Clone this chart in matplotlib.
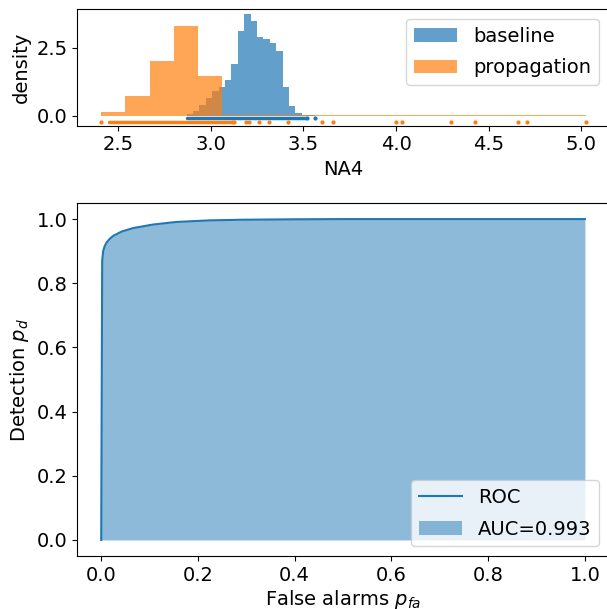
import numpy as np
import matplotlib
matplotlib.use('Agg')
import matplotlib.pyplot as plt

plt.rcParams['font.size'] = 14

#Histogram densities of NA4 - - - - - - - - - - - - - - - - -
# baseline: 20 bins between 2.869 and 3.561
base_lo, base_hi = 2.869, 3.561
base_density = [0.06, 0.17, 0.39, 0.65, 0.91, 1.05, 1.31, 1.90, 3.11, 3.74,
                3.48, 2.89, 2.82, 2.67, 2.38, 1.05, 0.36, 0.10, 0.02, 0.015]
# propagation: 20 bins between 2.408 and 5.023
prop_lo, prop_hi = 2.408, 5.023
prop_density = [0.14, 0.73, 2.02, 3.30, 1.46, 0.03, 0.025, 0.015, 0.015, 0.015,
                0.015, 0.015, 0.015, 0.015, 0.015, 0.015, 0.015, 0.015, 0.015, 0.015]

#Rug of individual samples (dense run + stragglers)
base_rug_span = [2.869, 3.516]
base_rug_pts = [3.52, 3.561]
prop_rug_span = [2.448, 3.102]
prop_rug_pts = [2.408, 3.112, 3.125, 3.189, 3.205, 3.258, 3.314, 3.417, 3.602,
                3.662, 4.0, 4.034, 4.296, 4.428, 4.658, 4.706, 5.023]

#ROC curve
pfa = [0.0, 0.002, 0.004, 0.007, 0.011, 0.018, 0.025, 0.042, 0.066, 0.107,
       0.155, 0.224, 0.293, 0.4, 0.5, 1.0]
pd_ = [0.0, 0.87, 0.90, 0.915, 0.927, 0.939, 0.948, 0.961, 0.972, 0.983,
       0.991, 0.996, 0.998, 0.9993, 1.0, 1.0]
auc = 0.993

leg_kw = dict(handlelength=2.2, handletextpad=0.85, labelspacing=0.65)

fig = plt.figure(figsize=(6.07, 6.09), dpi=100)
ax1 = fig.add_axes([0.1269, 0.7936, 0.8765, 0.1911])
ax2 = fig.add_axes([0.1269, 0.0870, 0.8765, 0.5796])

#Top: histograms + rug
base_edges = np.linspace(base_lo, base_hi, len(base_density) + 1)
prop_edges = np.linspace(prop_lo, prop_hi, len(prop_density) + 1)
ax1.hist(base_edges[:-1], bins=base_edges, weights=base_density,
         color='C0', alpha=0.7, label='baseline')
ax1.hist(prop_edges[:-1], bins=prop_edges, weights=prop_density,
         color='C1', alpha=0.7, label='propagation')

ax1.plot(base_rug_span, [-0.1, -0.1], color='C0', lw=2.5, solid_capstyle='round')
ax1.plot(base_rug_pts, [-0.1] * len(base_rug_pts), '.', color='C0', ms=4)
ax1.plot(prop_rug_span, [-0.25, -0.25], color='C1', lw=2.5, solid_capstyle='round')
ax1.plot(prop_rug_pts, [-0.25] * len(prop_rug_pts), '.', color='C1', ms=4)

ax1.set_xlim(2.278, 5.15)
ax1.set_ylim(-0.368, 3.91)
ax1.set_xlabel('NA4')
ax1.set_ylabel('density')
ax1.legend(loc='upper right', **leg_kw)

#Bottom: ROC
ax2.plot(pfa, pd_, color='C0', label='ROC')
ax2.fill_between(pfa, pd_, color='C0', alpha=0.5, lw=0, label='AUC=%.3f' % auc)
ax2.set_xlim(-0.05, 1.05)
ax2.set_ylim(-0.05, 1.05)
ax2.set_xlabel('False alarms $p_{fa}$', labelpad=2)
ax2.set_ylabel('Detection $p_d$')
ax2.legend(loc='lower right', **leg_kw)

fig.savefig('out.png', dpi=100)
